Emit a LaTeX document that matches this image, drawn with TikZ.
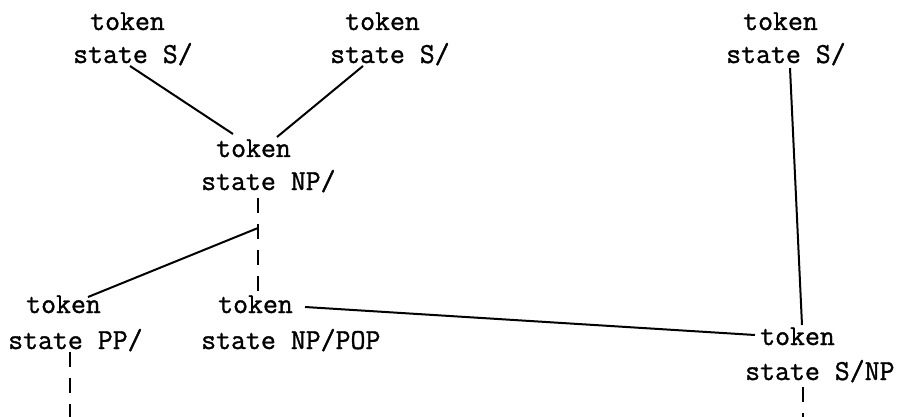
\documentclass[tikz,border=0pt]{standalone}
\usepackage{fontspec}
\newfontfamily\typewr[FakeBold=1.2]{Latin Modern Mono}
\usetikzlibrary{calc}
\begin{document}
\begin{tikzpicture}[x=1pt,y=-1pt,
  lbl/.style={inner sep=0pt, anchor=base west, font=\typewr\fontsize{29}{34}\selectfont},
  edge/.style={line width=2pt},
  dashedge/.style={line width=2pt, dash pattern=on 15pt off 11pt}]
\useasboundingbox (0,0) rectangle (905,417);
% labels
\node[lbl] (a1) at (90,30) {token};
\node[lbl] (a2) at (73,63) {state S/};
\node[lbl] (b1) at (345,30) {token};
\node[lbl] (b2) at (330,63) {state S/};
\node[lbl] (c1) at (743,30) {token};
\node[lbl] (c2) at (726,63) {state S/};
\node[lbl] (d1) at (216,157) {token};
\node[lbl] (d2) at (201,190) {state NP/};
\node[lbl] (e1) at (26,313) {token};
\node[lbl] (e2) at (8,349) {state PP/};
\node[lbl] (f1) at (218,313) {token};
\node[lbl] (f2) at (201,349) {state NP/POP};
\node[lbl] (g1) at (760,345) {token};
\node[lbl] (g2) at (745,380) {state S/NP};
% free-end coordinates
\coordinate (j) at ($(d2.base west)+(57,38)$);
\coordinate (eEnd) at ($(e2.base west)+(62,68)$);
\coordinate (gEnd) at ($(g2.base west)+(58,37)$);
% connectors
\draw[edge] ($(a2.base west)+(57,3)$) -- ($(d1.base west)+(17,-23)$);
\draw[edge] ($(b2.base west)+(33,3)$) -- ($(d1.base west)+(61,-20)$);
\draw[dashedge] ($(d2.base west)+(57,8)$) -- ($(f1.base west)+(40,-20)$);
\draw[edge] (j) -- ($(e1.base west)+(62,-16)$);
\draw[edge] ($(f1.base west)+(87,-6)$) -- ($(g1.base west)+(-5,-10)$);
\draw[edge] ($(c2.base west)+(64,5)$) -- ($(g1.base west)+(42,-20)$);
\draw[dashedge] ($(g2.base west)+(58,7)$) -- (gEnd);
\draw[dashedge] ($(e2.base west)+(62,3)$) -- (eEnd);
\end{tikzpicture}
\end{document}
